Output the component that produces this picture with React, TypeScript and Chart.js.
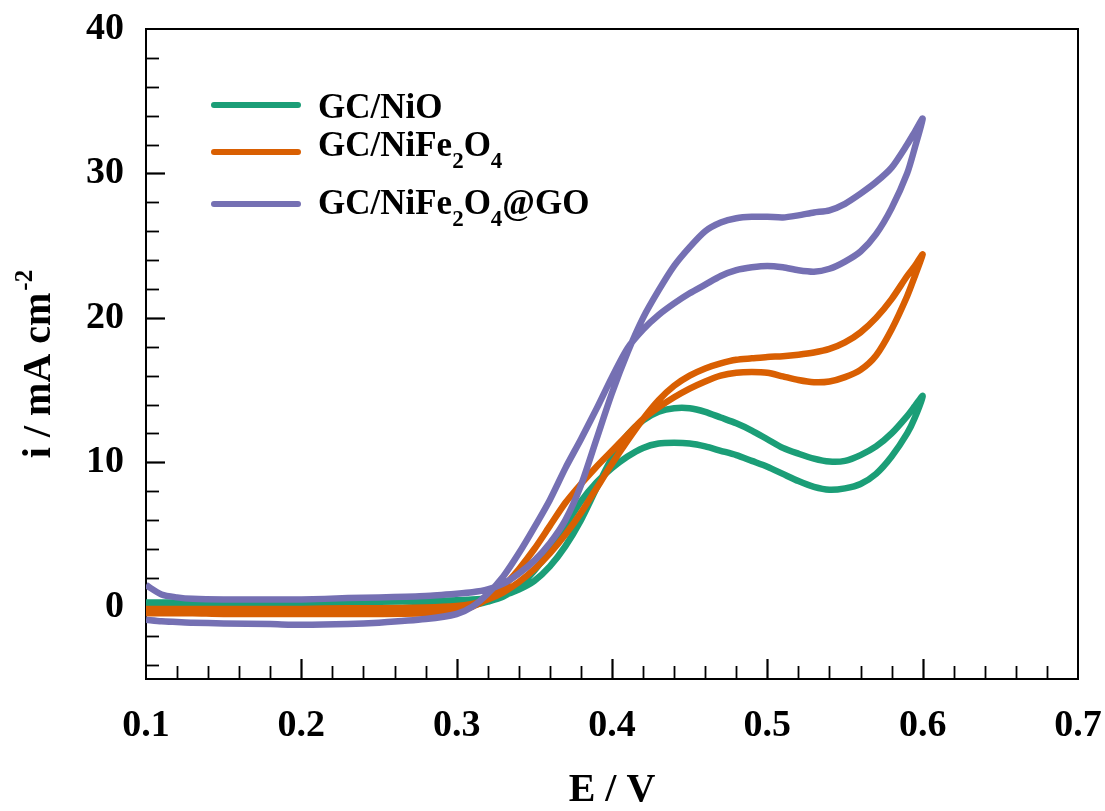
import React, { useEffect, useRef } from 'react';
import { Chart, registerables } from 'chart.js';

Chart.register(...registerables);

const FONT = '"Liberation Serif", "Times New Roman", serif';

// Potential grid (V) shared by all scans
const potentialGrid = [0.10, 0.11, 0.12, 0.13, 0.15, 0.18, 0.20, 0.23, 0.25, 0.28, 0.30, 0.31, 0.32, 0.33, 0.34, 0.35, 0.36, 0.37, 0.38, 0.39, 0.40, 0.41, 0.42, 0.43, 0.44, 0.45, 0.46, 0.47, 0.48, 0.49, 0.50, 0.51, 0.52, 0.53, 0.54, 0.55, 0.56, 0.57, 0.58, 0.59, 0.595, 0.60];

// GC/NiO
const nioForward = [0.3, 0.3, 0.3, 0.3, 0.3, 0.3, 0.3, 0.3, 0.35, 0.4, 0.45, 0.5, 0.6, 0.8, 1.2, 1.8, 2.8, 4.2, 6.0, 8.2, 10.3, 11.9, 12.9, 13.5, 13.75, 13.75, 13.5, 13.1, 12.7, 12.2, 11.6, 11.0, 10.6, 10.25, 10.05, 10.1, 10.5, 11.1, 12.0, 13.2, 13.9, 14.6];
const nioReverse = [0.0, -0.05, -0.1, -0.1, -0.1, -0.1, -0.1, -0.1, -0.1, -0.05, 0.0, 0.1, 0.35, 0.7, 1.4, 2.5, 3.9, 5.6, 7.3, 8.6, 9.6, 10.4, 11.0, 11.3, 11.35, 11.3, 11.1, 10.8, 10.5, 10.1, 9.7, 9.2, 8.7, 8.3, 8.1, 8.2, 8.5, 9.2, 10.4, 12.0, 13.1, 14.6];

// GC/NiFe2O4
const nifeForward = [-0.15, -0.15, -0.15, -0.15, -0.15, -0.15, -0.15, -0.1, -0.1, -0.05, 0.05, 0.2, 0.5, 1.0, 1.7, 2.6, 3.7, 5.0, 6.5, 8.2, 9.9, 11.5, 13.0, 14.3, 15.3, 16.0, 16.5, 16.85, 17.1, 17.2, 17.3, 17.35, 17.45, 17.6, 17.85, 18.3, 19.0, 20.0, 21.3, 22.9, 23.6, 24.4];
const nifeReverse = [-0.45, -0.45, -0.45, -0.45, -0.5, -0.5, -0.5, -0.5, -0.5, -0.45, -0.3, 0.0, 0.55, 1.4, 2.6, 4.0, 5.6, 7.2, 8.5, 9.7, 10.8, 11.9, 13.0, 13.8, 14.5, 15.1, 15.6, 16.0, 16.2, 16.25, 16.2, 15.95, 15.7, 15.55, 15.6, 15.9, 16.4, 17.4, 19.2, 21.5, 22.9, 24.4];

// GC/NiFe2O4@GO
const nifeGoForward = [1.5, 0.85, 0.65, 0.55, 0.5, 0.5, 0.5, 0.6, 0.65, 0.75, 0.9, 1.0, 1.2, 1.6, 2.3, 3.2, 4.4, 6.0, 8.4, 11.6, 14.8, 17.6, 20.0, 21.9, 23.6, 24.9, 26.0, 26.6, 26.9, 27.0, 27.0, 26.95, 27.1, 27.3, 27.45, 27.9, 28.6, 29.4, 30.4, 32.0, 32.9, 33.8];
const nifeGoReverse = [-0.9, -1.0, -1.05, -1.1, -1.15, -1.2, -1.25, -1.2, -1.1, -0.85, -0.5, 0.0, 0.9, 2.1, 3.7, 5.5, 7.4, 9.6, 11.6, 13.7, 15.9, 17.9, 19.2, 20.2, 21.0, 21.7, 22.3, 22.9, 23.3, 23.5, 23.6, 23.5, 23.3, 23.2, 23.4, 23.9, 24.6, 25.8, 27.6, 30.0, 31.8, 33.8];

const seriesNames = ['GC/NiO', 'GC/NiFe2O4', 'GC/NiFe2O4@GO'];
const seriesColors = ['#1b9e77', '#d95f02', '#7570b3'];
// legend label pieces: [text, isSubscript]
const legendParts: [string, boolean][][] = [
  [['GC/NiO', false]],
  [['GC/NiFe', false], ['2', true], ['O', false], ['4', true]],
  [['GC/NiFe', false], ['2', true], ['O', false], ['4', true], ['@GO', false]],
];

const xTickValues = [0.1, 0.2, 0.3, 0.4, 0.5, 0.6, 0.7];
const yTickValues = [0, 10, 20, 30, 40];
const xTitle = 'E / V';
const yTitleMain = 'i / mA cm';
const yTitleSup = '-2';

function loop(fwd: number[], rev: number[]) {
  const pts: { x: number; y: number }[] = [];
  for (let i = 0; i < potentialGrid.length; i++) pts.push({ x: potentialGrid[i], y: fwd[i] });
  for (let i = potentialGrid.length - 2; i >= 0; i--) pts.push({ x: potentialGrid[i], y: rev[i] });
  return pts;
}

const decorPlugin = {
  id: 'decor',
  beforeDatasetsDraw(chart: any) {
    const { ctx, chartArea: ca, scales } = chart;
    const xs = scales.x;
    const ys = scales.y;
    ctx.save();
    ctx.strokeStyle = '#000';
    ctx.lineWidth = 2;
    ctx.strokeRect(ca.left, ca.top, ca.right - ca.left, ca.bottom - ca.top);
    // bottom ticks (inward)
    for (let i = 1; i < 30; i++) {
      const v = 0.1 + i * 0.02;
      const px = Math.round(xs.getPixelForValue(v)) + 0.5;
      const len = i % 5 === 0 ? 20 : 13;
      ctx.lineWidth = i % 5 === 0 ? 2.2 : 1.8;
      ctx.beginPath();
      ctx.moveTo(px, ca.bottom);
      ctx.lineTo(px, ca.bottom - len);
      ctx.stroke();
    }
    // left ticks (inward)
    for (let v = -4; v < 40; v += 2) {
      const py = Math.round(ys.getPixelForValue(v)) + 0.5;
      const major = v % 10 === 0;
      const len = major ? 19 : 13;
      ctx.lineWidth = major ? 2.2 : 1.8;
      ctx.beginPath();
      ctx.moveTo(ca.left, py);
      ctx.lineTo(ca.left + len, py);
      ctx.stroke();
    }
    ctx.restore();
  },
  afterDraw(chart: any) {
    const { ctx, chartArea: ca } = chart;
    ctx.save();
    // y-axis title with superscript
    const mainFont = `bold 40px ${FONT}`;
    const supFont = `bold 25px ${FONT}`;
    ctx.font = mainFont;
    const w1 = ctx.measureText(yTitleMain).width;
    ctx.font = supFont;
    const w2 = ctx.measureText(yTitleSup).width;
    const total = w1 + w2 + 2;
    ctx.translate(50, (ca.top + ca.bottom) / 2 + 10);
    ctx.rotate(-Math.PI / 2);
    ctx.fillStyle = '#000';
    ctx.textBaseline = 'alphabetic';
    ctx.textAlign = 'left';
    ctx.font = mainFont;
    ctx.fillText(yTitleMain, -total / 2, 0);
    ctx.font = supFont;
    ctx.fillText(yTitleSup, -total / 2 + w1 + 2, -18);
    ctx.restore();

    // legend
    ctx.save();
    const lineYs = [105, 152, 204];
    const baseYs = [118, 156, 214];
    for (let r = 0; r < 3; r++) {
      ctx.strokeStyle = seriesColors[r];
      ctx.lineWidth = 6;
      ctx.lineCap = 'round';
      ctx.beginPath();
      ctx.moveTo(214, lineYs[r]);
      ctx.lineTo(298, lineYs[r]);
      ctx.stroke();
      let x = 318;
      ctx.fillStyle = '#000';
      ctx.textBaseline = 'alphabetic';
      ctx.textAlign = 'left';
      for (const [t, sub] of legendParts[r]) {
        ctx.font = sub ? `bold 23px ${FONT}` : `bold 35px ${FONT}`;
        ctx.fillText(t, x, baseYs[r] + (sub ? 12 : 0));
        x += ctx.measureText(t).width;
      }
    }
    ctx.restore();
  },
};

export default function App() {
  const ref = useRef<HTMLCanvasElement>(null);
  useEffect(() => {
    if (!ref.current) return;
    const forwards = [nioForward, nifeForward, nifeGoForward];
    const reverses = [nioReverse, nifeReverse, nifeGoReverse];
    const chart = new Chart(ref.current, {
      type: 'scatter',
      data: {
        datasets: seriesNames.map((name, i) => ({
          label: name,
          data: loop(forwards[i], reverses[i]),
          showLine: true,
          borderColor: seriesColors[i],
          backgroundColor: seriesColors[i],
          borderWidth: 6.5,
          pointRadius: 0,
          tension: 0.25,
          fill: false,
          order: 2 - i,
        })),
      },
      options: {
        animation: false,
        responsive: true,
        maintainAspectRatio: false,
        layout: { padding: { top: 29, right: 27, left: 0, bottom: 0 } },
        plugins: { legend: { display: false }, tooltip: { enabled: false } },
        scales: {
          x: {
            type: 'linear',
            min: 0.1,
            max: 0.7,
            afterBuildTicks: (s: any) => { s.ticks = xTickValues.map((v) => ({ value: v })); },
            afterFit: (s: any) => {
              s.height = 132;
              s.paddingLeft = 0;
              s.paddingRight = 0;
              s.paddingTop = 0;
              s.paddingBottom = 0;
            },
            grid: { display: false, drawTicks: false },
            border: { display: false },
            ticks: {
              autoSkip: false,
              maxRotation: 0,
              padding: 24,
              color: '#000',
              font: { family: FONT, size: 38, weight: 'bold' },
              callback: (v: any) => Number(v).toFixed(1),
            },
            title: {
              display: true,
              text: xTitle,
              color: '#000',
              font: { family: FONT, size: 40, weight: 'bold' },
              padding: { top: 0, bottom: -4 },
            },
          },
          y: {
            type: 'linear',
            min: -5,
            max: 40,
            afterBuildTicks: (s: any) => { s.ticks = yTickValues.map((v) => ({ value: v })); },
            afterFit: (s: any) => {
              s.width = 146;
              s.paddingLeft = 0;
              s.paddingRight = 0;
              s.paddingTop = 0;
              s.paddingBottom = 0;
            },
            grid: { display: false, drawTicks: false },
            border: { display: false },
            ticks: {
              padding: 22,
              color: '#000',
              font: { family: FONT, size: 38, weight: 'bold' },
              callback: (v: any) => String(v),
            },
          },
        },
      },
      plugins: [decorPlugin],
    } as any);
    return () => chart.destroy();
  }, []);
  return (
    <div style={{ position: 'absolute', left: 0, top: 0, width: 1105, height: 811, background: '#fff' }}>
      <canvas ref={ref} />
    </div>
  );
}
